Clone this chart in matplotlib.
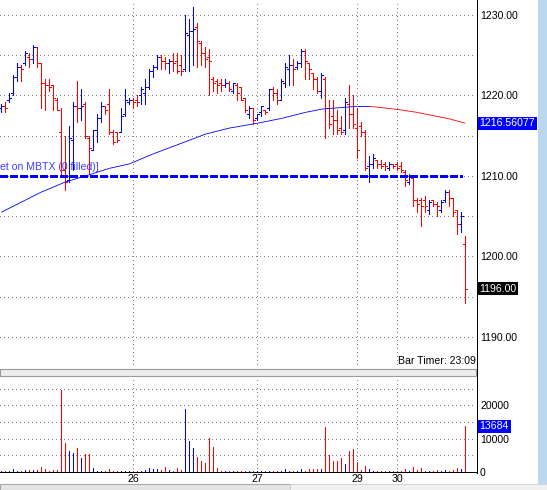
import matplotlib
matplotlib.use("Agg")
import matplotlib.pyplot as plt
from matplotlib.patches import Rectangle
from matplotlib.lines import Line2D
from matplotlib.transforms import blended_transform_factory
import numpy as np

plt.rcParams["font.family"] = ["Liberation Sans", "DejaVu Sans"]

# one bar per index
opens = [1218.5, 1218.75, 1219.5, 1220.25, 1222.25, 1223.5, 1224.0, 1224.75, 1224.5, 1226.0,
         1224.0, 1221.5, 1221.25, 1221.25, 1219.5, 1215.5, 1210.75, 1209.5, 1214.5, 1218.75,
         1218.5, 1219.0, 1214.75, 1213.25, 1215.75, 1217.25, 1218.75, 1219.0, 1215.5, 1215.5,
         1215.5, 1217.75, 1219.25, 1219.5, 1219.5, 1220.0, 1220.25, 1221.0, 1223.0, 1223.5,
         1224.75, 1224.25, 1224.0, 1224.25, 1224.25, 1223.75, 1223.25, 1227.5, 1228.0, 1228.5,
         1226.5, 1225.25, 1224.75, 1222.0, 1221.75, 1221.5, 1221.25, 1221.5, 1220.5, 1221.25,
         1221.0, 1219.75, 1217.75, 1218.5, 1217.25, 1218.0, 1218.25, 1218.5, 1220.75, 1220.25,
         1219.5, 1221.5, 1223.25, 1223.75, 1223.5, 1224.0, 1225.5, 1224.0, 1222.75, 1222.0,
         1220.5, 1222.0, 1218.5, 1217.5, 1217.0, 1216.0, 1215.75, 1219.0, 1217.75, 1216.0,
         1216.25, 1215.5, 1211.25, 1211.5, 1212.0, 1211.5, 1211.5, 1211.0, 1211.5, 1211.5,
         1211.25, 1210.5, 1209.25, 1209.75, 1207.0, 1207.0, 1207.0, 1205.75, 1207.0, 1206.5,
         1205.75, 1207.0, 1208.0, 1207.25, 1205.75, 1204.0, 1201.5]
highs = [1219.0, 1219.25, 1220.25, 1222.5, 1224.0, 1223.75, 1225.5, 1225.25, 1226.25, 1226.0,
         1224.0, 1222.0, 1222.0, 1221.25, 1219.75, 1218.5, 1215.0, 1216.25, 1219.25, 1221.75,
         1220.75, 1219.25, 1215.0, 1215.75, 1217.75, 1219.25, 1218.75, 1220.75, 1215.75, 1215.5,
         1218.5, 1220.75, 1219.75, 1219.75, 1220.0, 1221.0, 1222.0, 1223.25, 1223.75, 1225.0,
         1225.0, 1224.75, 1224.5, 1225.25, 1225.25, 1225.0, 1230.0, 1229.5, 1231.0, 1229.0,
         1226.75, 1226.0, 1225.75, 1222.25, 1222.0, 1222.0, 1222.0, 1221.75, 1221.5, 1221.5,
         1221.0, 1219.75, 1218.75, 1218.5, 1217.75, 1218.75, 1218.25, 1220.75, 1221.0, 1220.75,
         1222.0, 1224.0, 1225.0, 1224.5, 1224.25, 1225.75, 1225.75, 1224.0, 1222.75, 1222.25,
         1222.75, 1222.25, 1219.5, 1219.5, 1218.25, 1217.5, 1219.75, 1221.25, 1220.0, 1218.5,
         1216.75, 1215.75, 1212.5, 1212.75, 1212.0, 1212.0, 1211.75, 1211.75, 1211.5, 1211.75,
         1211.75, 1210.75, 1210.25, 1210.0, 1207.25, 1207.25, 1207.5, 1207.0, 1207.0, 1206.75,
         1207.0, 1208.25, 1208.25, 1207.25, 1205.75, 1205.5, 1202.5]
lows = [1218.0, 1218.0, 1219.25, 1220.0, 1221.75, 1221.75, 1223.75, 1223.5, 1224.0, 1223.5,
        1218.5, 1218.25, 1220.5, 1218.25, 1218.25, 1210.25, 1208.25, 1209.25, 1210.75, 1216.75,
        1217.0, 1214.75, 1210.25, 1213.25, 1214.25, 1216.75, 1217.75, 1215.25, 1214.0, 1214.25,
        1215.5, 1217.5, 1219.0, 1218.5, 1218.75, 1219.0, 1219.0, 1220.75, 1222.25, 1223.25,
        1223.25, 1223.25, 1222.75, 1223.0, 1222.75, 1222.5, 1223.0, 1223.0, 1223.75, 1223.5,
        1223.75, 1223.5, 1220.0, 1220.5, 1220.25, 1220.5, 1221.0, 1220.5, 1220.25, 1219.5,
        1219.5, 1218.0, 1217.25, 1216.5, 1217.0, 1217.5, 1217.75, 1218.25, 1219.5, 1219.0,
        1219.5, 1221.0, 1221.25, 1221.25, 1223.25, 1223.5, 1222.0, 1222.0, 1220.75, 1220.25,
        1219.75, 1214.75, 1216.0, 1215.25, 1215.25, 1215.25, 1215.25, 1216.0, 1216.0, 1212.25,
        1215.0, 1210.75, 1209.25, 1211.0, 1211.0, 1211.0, 1210.75, 1210.75, 1211.0, 1210.75,
        1210.5, 1208.75, 1209.0, 1206.25, 1205.5, 1203.75, 1205.5, 1205.25, 1206.25, 1205.0,
        1205.5, 1206.75, 1206.25, 1205.0, 1202.75, 1203.0, 1194.25]
closes = [1218.75, 1218.5, 1219.75, 1222.25, 1223.5, 1223.25, 1225.25, 1224.5, 1226.0, 1224.0,
          1221.5, 1221.25, 1221.0, 1219.75, 1218.25, 1210.75, 1209.25, 1214.75, 1218.75, 1218.5,
          1218.75, 1215.0, 1213.5, 1215.75, 1217.25, 1218.75, 1218.25, 1215.5, 1214.25, 1214.5,
          1217.5, 1219.5, 1219.5, 1219.25, 1219.25, 1220.75, 1221.0, 1223.0, 1223.5, 1224.75,
          1224.25, 1224.0, 1224.25, 1224.0, 1223.0, 1223.0, 1227.75, 1228.0, 1228.25, 1226.75,
          1225.25, 1224.5, 1224.25, 1221.5, 1221.25, 1221.25, 1221.5, 1220.75, 1221.5, 1220.25,
          1219.5, 1218.25, 1218.5, 1217.0, 1217.75, 1218.75, 1218.0, 1220.75, 1220.25, 1219.5,
          1221.75, 1223.5, 1223.75, 1223.25, 1224.0, 1225.5, 1224.25, 1223.25, 1222.0, 1220.5,
          1222.5, 1218.5, 1216.5, 1217.0, 1215.75, 1215.5, 1219.25, 1217.75, 1216.5, 1213.25,
          1215.5, 1211.0, 1211.5, 1212.25, 1211.5, 1211.25, 1211.25, 1211.5, 1211.25, 1211.0,
          1210.75, 1209.5, 1210.0, 1207.0, 1206.5, 1206.25, 1206.25, 1206.75, 1206.5, 1206.25,
          1206.75, 1208.0, 1207.25, 1205.5, 1204.0, 1205.0, 1196.0]
volumes = [400, 400, 400, 800, 400, 400, 700, 700, 700, 700,
           1500, 1000, 400, 700, 700, 24700, 8800, 6400, 5800, 7300,
           4300, 5500, 5500, 1300, 400, 400, 400, 1000, 400, 400,
           400, 400, 400, 400, 400, 400, 700, 1300, 1000, 1000,
           700, 1600, 700, 400, 1300, 700, 19000, 9400, 7300, 4600,
           3400, 2800, 10100, 7600, 1300, 400, 400, 400, 400, 400,
           400, 400, 400, 400, 400, 400, 400, 400, 400, 400,
           400, 800, 400, 400, 400, 800, 400, 800, 800, 1000,
           800, 13600, 5200, 3400, 3400, 4300, 2500, 6400, 7000, 3100,
           700, 1900, 1000, 400, 400, 400, 400, 400, 400, 400,
           400, 800, 400, 1600, 700, 1300, 400, 400, 400, 700,
           400, 700, 400, 700, 1300, 1000, 13684]

# moving average, read at a few bars
ma_index = [0, 6, 10, 16, 21, 27, 32, 38, 46, 51, 57, 64, 70, 76, 80, 85,
            89, 92, 96, 100, 104, 108, 112, 116]
ma_values = [1205.5, 1207.0, 1208.0, 1209.25, 1210.0, 1210.95, 1211.5, 1212.75,
             1214.25, 1215.2, 1215.95, 1216.55, 1217.15, 1217.9, 1218.3, 1218.5,
             1218.65, 1218.65, 1218.45, 1218.2, 1217.9, 1217.5, 1217.1, 1216.56077]

order_price = 1210.0
order_end = 115.2
order_label = "et on MBTX (0 filled)]"
bar_timer = "Bar Timer: 23:09"

price_ticks = [1190, 1200, 1210, 1220, 1230]
price_minor = [1195, 1205, 1215, 1225]
vol_ticks = [0, 10000, 20000]
vol_minor = [5000, 15000, 25000]
date_ticks = [33, 64, 89, 99]
date_labels = ["26", "27", "29", "30"]

UP = "#0000ff"
DOWN = "#ff0000"
GRID = "#808080"
FS = 7.6
PX = 0.72  # one pixel in points at 100 dpi

W, H = 547, 490


def fx(px):
    return px / W


def fy(py):
    return 1 - py / H


fig = plt.figure(figsize=(W / 100, H / 100), dpi=100)
fig.patch.set_facecolor("white")

ax = fig.add_axes([0, fy(368), fx(476), 368 / H])
vax = fig.add_axes([0, fy(472), fx(476), (472 - 376) / H])

xlim = (-1.3 / 4, (476 - 1.3) / 4)
ax.set_xlim(*xlim)
vax.set_xlim(*xlim)
ax.set_ylim(1230 - 353 / 8.05, 1230 + 15 / 8.05)
vax.set_ylim(0, 96 * 5000 / 16.7)

idx = np.arange(len(opens))
o = np.array(opens)
c = np.array(closes)
cols = np.where(c >= o, UP, DOWN)

# price bars, drawn crisp like the terminal does
ax.vlines(idx, lows, highs, colors=cols, lw=PX, antialiased=False, zorder=3)
ax.hlines(o, idx - 0.5, idx, colors=cols, lw=PX, antialiased=False, zorder=3)
ax.hlines(c, idx, idx + 0.5, colors=cols, lw=PX, antialiased=False, zorder=3)

# moving average, blue while rising, red while falling
for k in range(len(ma_index) - 1):
    col = UP if ma_values[k + 1] >= ma_values[k] else DOWN
    ax.plot(ma_index[k:k + 2], ma_values[k:k + 2], color=col, lw=0.6, zorder=4,
            solid_capstyle="butt")

# order line
ax.plot([xlim[0], order_end], [order_price, order_price], color=UP, lw=1.8,
        linestyle=(0, (2.8, 1.0)), antialiased=False, zorder=5)
ax.text(0.0, (368 - 166.7) / 368, order_label, transform=ax.transAxes,
        color="#3c3cff", fontsize=FS, ha="left", va="center", zorder=6)

ax.text(475.5 / 476, (368 - 360.7) / 368, bar_timer, transform=ax.transAxes,
        color="black", fontsize=FS, ha="right", va="center", zorder=6)

# volume
vax.vlines(idx, 0, volumes, colors=cols, lw=PX, antialiased=False, zorder=3)

for a in (ax, vax):
    for s in a.spines.values():
        s.set_visible(False)
    a.set_xticks(date_ticks)
    a.yaxis.tick_right()
    a.tick_params(axis="both", which="both", length=0, labelsize=FS, colors="black")
    a.grid(True, which="both", color=GRID, lw=PX, linestyle=(0, (1, 4)),
           antialiased=False)
    a.set_axisbelow(True)

ax.set_xticklabels([])
ax.set_yticks(price_ticks)
ax.set_yticks(price_minor, minor=True)
ax.set_yticklabels([f"{v:.2f}" for v in price_ticks])
ax.tick_params(axis="y", pad=2.9)

vax.set_yticks(vol_ticks)
vax.set_yticks(vol_minor, minor=True)
vax.set_yticklabels([str(v) for v in vol_ticks])
vax.tick_params(axis="y", pad=2.9)
vax.set_xticklabels(date_labels)
vax.tick_params(axis="x", pad=1.5)
vax.spines["bottom"].set_visible(True)
vax.spines["bottom"].set_color("black")
vax.spines["bottom"].set_linewidth(PX)

# value boxes on the price scale
tr = blended_transform_factory(ax.transAxes, ax.transData)
ax.text(1 + 3.6 / 476, ma_values[-1], f"{ma_values[-1]:.5f}", transform=tr,
        color="white", fontsize=FS, ha="left", va="center", clip_on=False,
        bbox=dict(boxstyle="square,pad=0.15", fc=UP, ec="none"))
ax.text(1 + 3.6 / 476, closes[-1], f"{closes[-1]:.2f}", transform=tr,
        color="white", fontsize=FS, ha="left", va="center", clip_on=False,
        bbox=dict(boxstyle="square,pad=0.15", fc="black", ec="none"))
vtr = blended_transform_factory(vax.transAxes, vax.transData)
vax.text(1 + 3.6 / 476, volumes[-1], str(volumes[-1]), transform=vtr,
         color="white", fontsize=FS, ha="left", va="center", clip_on=False,
         bbox=dict(boxstyle="square,pad=0.15", fc=UP, ec="none"))

# window chrome: scale line, pane splitter, scroll bars
fig.add_artist(Line2D([fx(476.5), fx(476.5)], [fy(0), fy(473)], color="black",
                      lw=PX, antialiased=False, transform=fig.transFigure))
fig.add_artist(Rectangle((0, fy(375.5)), fx(475.5), 7 / H, transform=fig.transFigure,
                         fc="#ececec", ec="#9a9a9a", lw=0.8))
fig.add_artist(Rectangle((fx(538), fy(484)), fx(9), 484 / H, transform=fig.transFigure,
                         fc="#bcd7f0", ec="none"))
fig.add_artist(Rectangle((0, 0), fx(290), 6 / H, transform=fig.transFigure,
                         fc="#e6e6e6", ec="#a8a8a8", lw=0.8))
fig.add_artist(Rectangle((fx(290), 0), fx(257), 6 / H, transform=fig.transFigure,
                         fc="#f0f0f0", ec="#d0d0d0", lw=0.6))

fig.savefig("out.png", dpi=100)
